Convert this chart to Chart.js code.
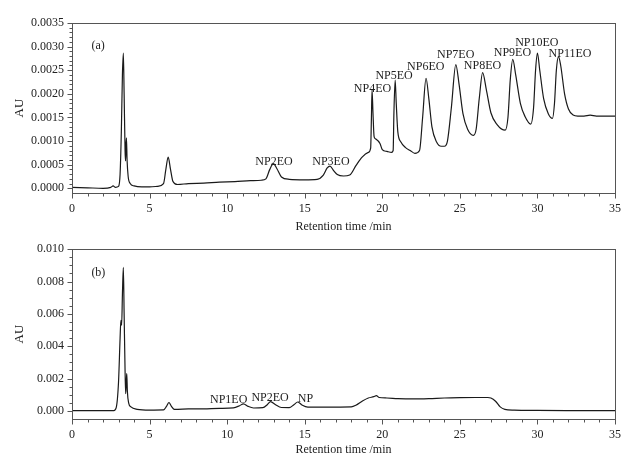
<!DOCTYPE html>
<html><head><meta charset="utf-8">
<script src="https://cdn.jsdelivr.net/npm/chart.js@4/dist/chart.umd.min.js"></script>
<style>
html,body{margin:0;padding:0;background:#fff;}
#wrap{position:relative;width:633px;height:457px;}
#ca{position:absolute;left:0;top:0;}
#cb{position:absolute;left:0;top:234px;}
</style></head>
<body><div id="wrap">
<canvas id="ca" width="633" height="234"></canvas>
<canvas id="cb" width="633" height="223"></canvas>
</div>
<script>
// ---------- data ----------
const timeA = [0,1,2,2.5,2.65,2.8,3.0,3.1,3.18,3.25,3.31,3.36,3.42,3.45,3.48,3.51,3.55,3.62,3.75,4.0,4.5,5.0,5.5,5.9,6.05,6.2,6.35,6.5,6.8,7.5,8.5,9.5,10.5,11.5,12.2,12.5,12.75,12.98,13.2,13.5,14.0,15.0,15.8,16.2,16.45,16.63,16.85,17.1,17.5,17.9,18.3,18.7,19.1,19.25,19.3,19.34,19.4,19.47,19.55,19.85,20.0,20.3,20.6,20.7,20.75,20.83,20.9,21.0,21.2,21.5,21.8,22.1,22.4,22.6,22.82,23.0,23.2,23.5,23.8,24.0,24.2,24.45,24.74,24.95,25.2,25.5,25.87,26.05,26.25,26.47,26.7,27.0,27.4,27.92,28.1,28.25,28.41,28.6,28.9,29.2,29.57,29.75,29.88,30.0,30.15,30.4,30.7,30.97,31.1,31.22,31.36,31.5,31.75,32.0,32.3,32.6,33.0,33.4,33.8,34.5,35];
const auA = [0.00002,0.00001,0.00000,0.00002,0.00005,0.00002,0.00004,0.0003,0.0012,0.0024,0.00286,0.0020,0.0008,0.00058,0.0009,0.00107,0.0006,0.00025,0.0001,0.00005,0.00003,0.00003,0.00004,0.0001,0.0004,0.00066,0.0004,0.00015,0.00008,0.0001,0.00011,0.00013,0.00014,0.00016,0.00017,0.0002,0.0004,0.00052,0.00042,0.00024,0.00019,0.00018,0.00019,0.00028,0.00043,0.00047,0.00038,0.00029,0.00026,0.00028,0.00048,0.00066,0.00076,0.00085,0.0015,0.00208,0.0016,0.0011,0.00105,0.00095,0.00082,0.00078,0.00076,0.0008,0.0016,0.00229,0.0018,0.0012,0.00098,0.00086,0.0008,0.00074,0.0008,0.0015,0.00233,0.0019,0.0013,0.00098,0.00089,0.00089,0.001,0.0017,0.00262,0.0022,0.00158,0.00125,0.00112,0.00125,0.0019,0.00245,0.0021,0.0016,0.00135,0.00123,0.0015,0.0023,0.00273,0.0024,0.0018,0.00152,0.00136,0.0017,0.0025,0.00286,0.0025,0.0019,0.00158,0.00148,0.0018,0.0025,0.00279,0.0026,0.002,0.00168,0.00155,0.00153,0.00153,0.00155,0.00153,0.00153,0.00153];

const timeB = [0,2.7,2.85,3.0,3.1,3.15,3.2,3.25,3.31,3.36,3.42,3.46,3.5,3.53,3.57,3.65,3.8,4.2,5.0,5.9,6.1,6.25,6.4,6.6,7.5,8.5,9.5,10.4,10.8,11.05,11.35,11.7,12.3,12.6,12.8,13.1,13.5,14.0,14.3,14.55,14.85,15.2,16.0,17.0,18.0,18.3,18.7,19.1,19.45,19.62,19.8,20.3,21.0,22.0,23.0,24.0,25.0,26.0,26.8,27.0,27.3,27.6,27.9,28.5,30,32,35];
const auB = [0.00002,0.00002,0.0002,0.0018,0.0045,0.0056,0.0053,0.0072,0.00887,0.0060,0.0025,0.00107,0.0018,0.0023,0.0012,0.0005,0.00025,0.0001,0.00005,0.00006,0.0003,0.00052,0.0003,0.0001,0.00012,0.00013,0.00016,0.00019,0.00032,0.00044,0.00028,0.00018,0.0002,0.0004,0.00058,0.0004,0.00021,0.0002,0.00038,0.00055,0.00035,0.00024,0.00024,0.00024,0.00025,0.00035,0.0006,0.0008,0.00088,0.00094,0.00083,0.0008,0.00076,0.00074,0.00076,0.0008,0.00082,0.00083,0.00083,0.0008,0.0006,0.00025,0.0001,0.00005,0.00003,0.00002,0.00002];

const xTicks = [0,5,10,15,20,25,30,35];
const yTicksA = [0,0.0005,0.001,0.0015,0.002,0.0025,0.003,0.0035];
const yTicksB = [0,0.002,0.004,0.006,0.008,0.010];

const peakNamesA = ['(a)','NP2EO','NP3EO','NP4EO','NP5EO','NP6EO','NP7EO','NP8EO','NP9EO','NP10EO','NP11EO'];
const peakTimeA  = [1.68,13.02,16.69,19.37,20.76,22.80,24.73,26.46,28.39,29.96,32.10];
const peakAuA    = [0.00301,0.00057,0.00055,0.00211,0.00238,0.00257,0.00282,0.00259,0.00286,0.00308,0.00284];
const peakNamesB = ['(b)','NP1EO','NP2EO','NP'];
const peakTimeB  = [1.70,10.10,12.77,15.05];
const peakAuB    = [0.00856,0.00066,0.00083,0.00076];

// ---------- drawing ----------
const FONT = 'Liberation Serif, Times New Roman, serif';
const TXT = '#222';
const AXC = '#555';

function framePlugin(minorX, minorY, names, times, aus){
  return {
    id:'frame',
    afterDraw(chart){
      const {ctx, chartArea:a, scales:{x,y}} = chart;
      ctx.save();
      ctx.strokeStyle = AXC; ctx.lineWidth = 1;
      ctx.strokeRect(Math.round(a.left)+0.5, Math.round(a.top)+0.5, Math.round(a.right-a.left), Math.round(a.bottom-a.top));
      ctx.beginPath();
      const by = Math.round(a.bottom)+0.5;
      for(let v=x.min; v<=x.max+1e-9; v+=minorX){
        const px = Math.round(x.getPixelForValue(v))+0.5;
        const major = Math.abs(v/5 - Math.round(v/5))<1e-6;
        ctx.moveTo(px, by); ctx.lineTo(px, by + (major?5:3));
      }
      const lx = Math.round(a.left)+0.5;
      const n = Math.round((y.max - 0)/minorY);
      for(let i=0;i<=n;i++){
        const v = i*minorY;
        const py = Math.round(y.getPixelForValue(v))+0.5;
        const major = y.ticks.some(t=>Math.abs(t.value - v) < minorY/10);
        ctx.moveTo(lx, py); ctx.lineTo(lx - (major?5:3), py);
      }
      ctx.stroke();
      ctx.fillStyle = TXT;
      ctx.font = '12px ' + FONT;
      ctx.textAlign = 'center'; ctx.textBaseline = 'middle';
      for(let i=0;i<names.length;i++){
        ctx.fillText(names[i], x.getPixelForValue(times[i]), y.getPixelForValue(aus[i]));
      }
      ctx.restore();
    }
  };
}

function makeChart(id, times, aus, yMin, yMax, yTicks, dec, minorY, padTop, xAxisH, names, pt, pa){
  const pts = times.map((t,i)=>({x:t, y:aus[i]}));
  return new Chart(document.getElementById(id), {
    type:'scatter',
    data:{datasets:[{data:pts, showLine:true, pointRadius:0, borderColor:'#1a1a1a', borderWidth:1.2, cubicInterpolationMode:'monotone', fill:false}]},
    options:{
      responsive:false, animation:false, events:[],
      layout:{padding:{left:0, right:18, top:padTop, bottom:0}},
      plugins:{legend:{display:false}, tooltip:{enabled:false}},
      scales:{
        x:{type:'linear', min:0, max:35,
          afterBuildTicks:s=>{ s.ticks = xTicks.map(v=>({value:v})); },
          afterFit:s=>{ s.height = xAxisH; },
          grid:{display:false, drawTicks:false}, border:{display:false},
          ticks:{color:TXT, font:{family:FONT, size:12}, padding:9, maxRotation:0, autoSkip:false},
          title:{display:true, text:'Retention time /min', color:TXT, font:{family:FONT, size:12}, padding:{top:0,bottom:0}}
        },
        y:{type:'linear', min:yMin, max:yMax,
          afterBuildTicks:s=>{ s.ticks = yTicks.map(v=>({value:v})); },
          afterFit:s=>{ s.width = 72; },
          grid:{display:false, drawTicks:false}, border:{display:false},
          ticks:{color:TXT, font:{family:FONT, size:12}, padding:8, callback:v=>Number(v).toFixed(dec)},
          title:{display:true, text:'AU', color:TXT, font:{family:FONT, size:13}, padding:{top:12,bottom:0}}
        }
      }
    },
    plugins:[framePlugin(1, minorY, names, pt, pa)]
  });
}

makeChart('ca', timeA, auA, -0.0001, 0.0035, yTicksA, 4, 0.0001, 23, 41, peakNamesA, peakTimeA, peakAuA);
makeChart('cb', timeB, auB, -0.0005, 0.010, yTicksB, 3, 0.0005, 14, 38, peakNamesB, peakTimeB, peakAuB);
</script>
</body></html>
